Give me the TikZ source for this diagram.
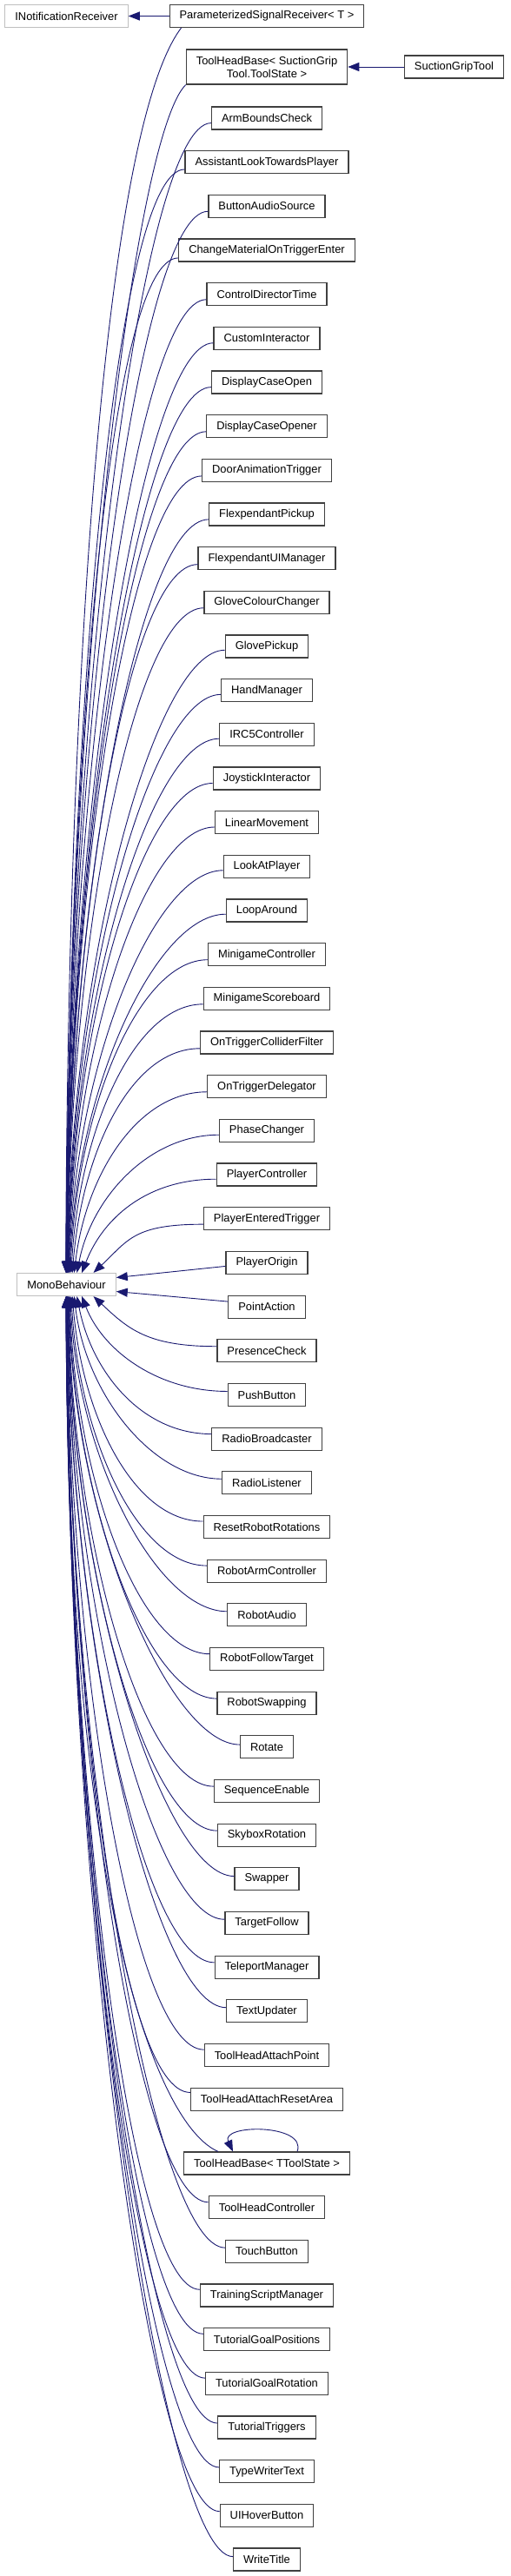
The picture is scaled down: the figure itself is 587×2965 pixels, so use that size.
\documentclass[tikz,border=0pt]{standalone}
\usepackage{fontspec}
\setmainfont{Liberation Sans}
\usepackage{tikz}
\usetikzlibrary{arrows.meta, calc}

\definecolor{navyedge}{HTML}{191970}

\begin{document}
\begin{tikzpicture}[
  x=1pt, y=-1pt,
  >={Triangle[length=13pt, width=10pt]},
  cls/.style = {draw=black!75, line width=1.2pt, rectangle, minimum height=26pt,
                inner xsep=11.5pt, inner ysep=2pt, align=center,
                font=\fontsize{12.9}{15}\selectfont},
  ext/.style = {cls, draw=black!25},
  inh/.style = {->, draw=navyedge, line width=0.9pt},
]
  \useasboundingbox (0,0) rectangle (587,2965);

  \node[ext] (inr)  at (76.5,18.5)   {INotificationReceiver};
  \node[ext] (mono) at (76.5,1478.5) {MonoBehaviour};
  \node[cls] (psr)  at (307,18.5)    {ParameterizedSignalReceiver< T >};
  \node[cls, minimum height=40pt] (thb) at (307,77) {ToolHeadBase< SuctionGrip\\Tool.ToolState >};
  \node[cls] (sgt)  at (522.5,77)    {SuctionGripTool};

  \foreach \name [count=\i from 0] in {ArmBoundsCheck, AssistantLookTowardsPlayer,
      ButtonAudioSource, ChangeMaterialOnTriggerEnter, ControlDirectorTime,
      CustomInteractor, DisplayCaseOpen, DisplayCaseOpener, DoorAnimationTrigger,
      FlexpendantPickup, FlexpendantUIManager, GloveColourChanger, GlovePickup,
      HandManager, IRC5Controller, JoystickInteractor, LinearMovement, LookAtPlayer,
      LoopAround, MinigameController, MinigameScoreboard, OnTriggerColliderFilter,
      OnTriggerDelegator, PhaseChanger, PlayerController, PlayerEnteredTrigger,
      PlayerOrigin, PointAction, PresenceCheck, PushButton, RadioBroadcaster,
      RadioListener, ResetRobotRotations, RobotArmController, RobotAudio,
      RobotFollowTarget, RobotSwapping, Rotate, SequenceEnable, SkyboxRotation,
      Swapper, TargetFollow, TeleportManager, TextUpdater, ToolHeadAttachPoint,
      ToolHeadAttachResetArea}
    \node[cls] (c\i) at (307,{136+50.67*\i}) {\name};

  \node[cls] (t0) at (307,2490) {ToolHeadBase< TToolState >};
  \foreach \name [count=\j from 1] in {ToolHeadController, TouchButton,
      TrainingScriptManager, TutorialGoalPositions, TutorialGoalRotation,
      TutorialTriggers, TypeWriterText, UIHoverButton, WriteTitle}
    \node[cls] (t\j) at (307,{2490+50.67*\j}) {\name};

  \draw[inh] (psr) -- (inr);
  \draw[inh] (sgt) -- (thb);
  \draw[inh] ($(t0.north)+(35,0)$) .. controls +(12,-32) and +(-15,-32) .. ($(t0.north)+(-39,0)$);

  % edges into MonoBehaviour
  \draw[inh] ($(psr.south west)+(14,0)$) .. controls +(-90,119) and +(2,-666) .. ($(mono.north west)+(56.5,0)$);
  \draw[inh] (thb.south west) .. controls +(-60,60) and +(3,-690) .. ($(mono.north west)+(56.8,0)$);
  \foreach \i in {0,...,25} {
    \pgfmathsetmacro\dist{26.5-\i}
    \draw[inh] (c\i.185) .. controls +(-80,0) and +({60/\dist},{-25*\dist}) .. ($(mono.north west)+({55+50/\dist},0)$);
  }
  \draw[inh] ($(c26.west)+(0,4)$) -- ($(mono.east)+(0,-8)$);
  \draw[inh] ($(c27.west)+(0,-6)$) -- ($(mono.east)+(0,8)$);
  \foreach \i in {28,...,45} {
    \pgfmathsetmacro\dist{\i-26.5}
    \draw[inh] (c\i.175) .. controls +(-80,0) and +({60/\dist},{25*\dist}) .. ($(mono.south west)+({55+50/\dist},0)$);
  }
  \draw[inh] ($(t0.north west)+(40,0)$) .. controls +(-70,-30) and +(2,700) .. ($(mono.south west)+(57,0)$);
  \foreach \j in {1,...,9} {
    \pgfmathsetmacro\dist{(1011.5+50.67*\j)/50.67}
    \draw[inh] (t\j.175) .. controls +(-80,0) and +({60/\dist},{25*\dist}) .. ($(mono.south west)+({55+50/\dist},0)$);
  }
\end{tikzpicture}
\end{document}
